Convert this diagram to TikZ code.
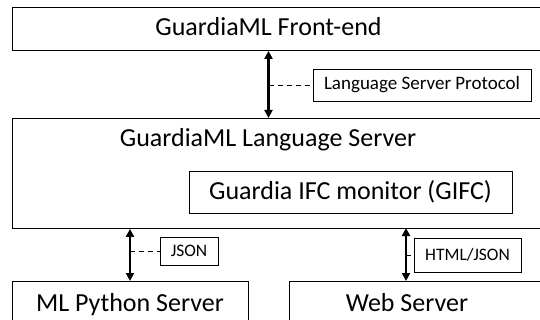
\documentclass[tikz,border=0pt]{standalone}
\usepackage{fontspec}
\setmainfont{Carlito}
\usetikzlibrary{arrows.meta}
\begin{document}
\begin{tikzpicture}[x=1pt,y=-1pt,
    box/.style={draw,line width=0.9pt,inner sep=0pt,anchor=north west},
    tag/.style={draw,line width=0.9pt,inner sep=0pt,font=\fontsize{17.5}{17.5}\selectfont},
    big/.style={font=\fontsize{26}{26}\selectfont},
    link/.style={line width=2.4pt,{Triangle[length=8pt,width=8pt]}-{Triangle[length=8pt,width=8pt]}},
    leader/.style={line width=0.9pt,dash pattern=on 5pt off 4pt}]
        \clip (0,0) rectangle (540,320);
        \node[box,minimum width=550pt,minimum height=43pt] (fe) at (12,7) {};
        \node[box,minimum width=550pt,minimum height=110pt] (ls) at (12,118) {};
        \node[box,minimum width=236pt,minimum height=60pt] (py) at (12,281) {};
        \node[box,minimum width=270pt,minimum height=60pt] (web) at (289,281) {};
        \node[big,anchor=base] (feText) at (268.5,36) {GuardiaML Front-end};
        \node[big,anchor=base] (lsText) at (268,147) {GuardiaML Language Server};
        \node[big,anchor=base] (pyText) at (130,311) {ML Python Server};
        \node[big,anchor=base] (webText) at (407,311) {Web Server};
        \node[draw,line width=0.9pt,big,minimum width=323pt,minimum height=42pt] (gifc) at (350.5,192) {Guardia IFC monitor (GIFC)};
        \node[tag,font=\fontsize{19}{19}\selectfont,minimum width=218pt,minimum height=32pt] (lsp) at (422,85) {Language Server Protocol};
        \node[tag,minimum width=58pt,minimum height=28pt] (json) at (189,251) {JSON};
        \node[tag,minimum width=107pt,minimum height=34pt] (html) at (467.5,255) {HTML/JSON};
        \draw[link] (feText |- fe.south) -- (feText |- ls.north);
        \draw[link] (pyText |- ls.south) -- (pyText |- py.north);
        \draw[link] (406,228) coordinate (webTop) -- (webTop |- web.north);
        \draw[leader] (lsp.west -| feText) -- (lsp.west);
        \draw[leader] (json.west -| pyText) -- (json.west);
        \draw[leader] (html.west -| webTop) -- (html.west);
    \end{tikzpicture}
\end{document}
